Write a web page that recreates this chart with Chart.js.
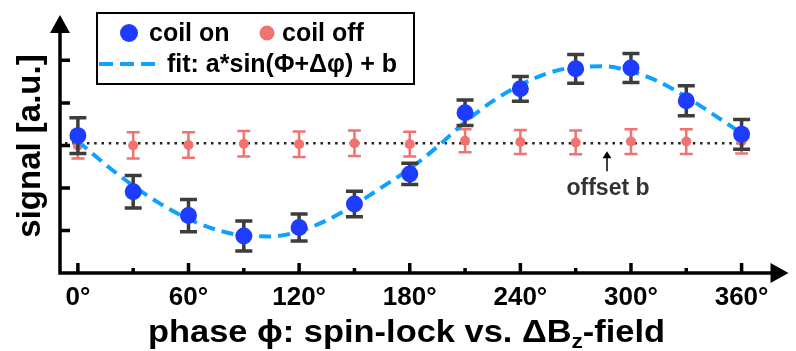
<!DOCTYPE html>
<html>
<head>
<meta charset="utf-8">
<script src="https://cdn.jsdelivr.net/npm/chart.js@4.4.1/dist/chart.umd.min.js"></script>
<style>
  html, body { margin: 0; padding: 0; background: #fff; }
</style>
</head>
<body>
<canvas id="chart" width="796" height="351"></canvas>
<script>
const phases = [0, 30, 60, 90, 120, 150, 180, 210, 240, 270, 300, 330, 360];
const coilOn = [3.23, 1.91, 1.35, 0.87, 1.07, 1.62, 2.33, 3.77, 4.33, 4.80, 4.82, 4.05, 3.26];
const coilOnErr = [0.42, 0.38, 0.38, 0.35, 0.32, 0.30, 0.25, 0.30, 0.29, 0.34, 0.34, 0.35, 0.35];
const coilOff = [2.99, 3.00, 3.01, 3.04, 3.03, 3.05, 3.03, 3.11, 3.08, 3.07, 3.09, 3.09, 3.10];
const coilOffErr = [0.30, 0.31, 0.30, 0.30, 0.30, 0.30, 0.29, 0.27, 0.28, 0.28, 0.29, 0.29, 0.29];

// dashed fit curve, every 15 degrees
const fitPhases = [0, 15, 30, 45, 60, 75, 90, 105, 120, 135, 150, 165, 180,
                   195, 210, 225, 240, 255, 270, 285, 300, 315, 330, 345, 360];
const fitValues = [3.10, 2.55, 2.05, 1.62, 1.27, 1.02, 0.88, 0.86, 0.98, 1.24, 1.60, 2.02, 2.45,
                   2.97, 3.55, 4.04, 4.42, 4.70, 4.84, 4.86, 4.74, 4.50, 4.14, 3.72, 3.28];

const offsetB = 3.05;
const offsetRange = [-7, 360];
const offsetArrowAt = 287;

const xTickValues = [0, 60, 120, 180, 240, 300, 360];
const xTickLabels = ['0°', '60°', '120°', '180°', '240°', '300°', '360°'];
const xMinorTicks = [30, 90, 150, 210, 270, 330];
const yTickValues = [1, 2, 3, 4, 5];

const FONT = "'Liberation Sans', Arial, Helvetica, sans-serif";
const BLUE = '#1e3cff';
const RED = '#f27272';
const FIT = '#0ea2ff';

const errorBars = {
  id: 'errorBars',
  beforeDatasetDraw(chart, args) {
    const ds = chart.data.datasets[args.index];
    if (!ds.errors) return;
    const c = chart.ctx, y = chart.scales.y;
    c.save();
    c.strokeStyle = ds.errorColor;
    c.lineWidth = ds.errorWidth;
    args.meta.data.forEach((pt, i) => {
      const v = ds.data[i].y, e = ds.errors[i];
      const top = y.getPixelForValue(v + e), bot = y.getPixelForValue(v - e);
      const w = ds.capWidth / 2;
      c.beginPath();
      c.moveTo(pt.x, top); c.lineTo(pt.x, bot);
      c.moveTo(pt.x - w, top); c.lineTo(pt.x + w, top);
      c.moveTo(pt.x - w, bot); c.lineTo(pt.x + w, bot);
      c.stroke();
    });
    c.restore();
  }
};

const axes = {
  id: 'axes',
  beforeDatasetsDraw(chart) {
    const c = chart.ctx, x = chart.scales.x, y = chart.scales.y;
    const x0 = x.left, y0 = y.bottom;
    c.save();
    c.strokeStyle = '#000';
    c.fillStyle = '#000';
    c.lineWidth = 3.5;
    c.beginPath();
    c.moveTo(x0, y0 + 1.75); c.lineTo(x0, y.top + 16);
    c.moveTo(x0 - 1.75, y0); c.lineTo(x.right - 16, y0);
    yTickValues.forEach(v => {
      const py = y.getPixelForValue(v);
      c.moveTo(x0, py); c.lineTo(x0 + 10, py);
    });
    xTickValues.forEach(v => {
      const px = x.getPixelForValue(v);
      c.moveTo(px, y0); c.lineTo(px, y0 - 10);
    });
    xMinorTicks.forEach(v => {
      const px = x.getPixelForValue(v);
      c.moveTo(px, y0); c.lineTo(px, y0 - 5);
    });
    c.stroke();
    c.beginPath();
    c.moveTo(x0, y.top + 1); c.lineTo(x0 - 10, y.top + 19); c.lineTo(x0 + 10, y.top + 19); c.closePath();
    c.moveTo(x.right + 1, y0); c.lineTo(x.right - 17, y0 - 10); c.lineTo(x.right - 17, y0 + 10); c.closePath();
    c.fill();
    c.restore();
  },
  afterDraw(chart) {
    const c = chart.ctx, x = chart.scales.x, y = chart.scales.y;
    const ds = chart.data.datasets;
    c.save();

    // legend box
    c.strokeStyle = '#000';
    c.lineWidth = 2;
    c.strokeRect(97, 13, 317, 71);
    c.font = 'bold 25px ' + FONT;
    c.textBaseline = 'middle';
    c.fillStyle = BLUE;
    c.beginPath(); c.arc(129, 33, 9, 0, Math.PI * 2); c.fill();
    c.fillStyle = RED;
    c.beginPath(); c.arc(267, 33, 7.5, 0, Math.PI * 2); c.fill();
    c.fillStyle = '#000';
    c.fillText(ds[0].label, 149, 34);
    c.fillText(ds[2].label, 282, 34);
    c.fillText(ds[1].label, 167, 65);
    c.strokeStyle = FIT;
    c.lineWidth = 4;
    c.setLineDash([14, 7]);
    c.beginPath(); c.moveTo(99, 64); c.lineTo(157, 64); c.stroke();
    c.setLineDash([]);

    // offset b annotation
    const ax = x.getPixelForValue(offsetArrowAt);
    const ay = y.getPixelForValue(offsetB);
    c.strokeStyle = '#000';
    c.fillStyle = '#000';
    c.lineWidth = 1.5;
    c.beginPath(); c.moveTo(ax, ay + 28); c.lineTo(ax, ay + 12); c.stroke();
    c.beginPath(); c.moveTo(ax, ay + 8); c.lineTo(ax - 4.5, ay + 15); c.lineTo(ax + 4.5, ay + 15); c.closePath(); c.fill();
    c.fillStyle = '#333';
    c.font = 'bold 23px ' + FONT;
    c.textAlign = 'center';
    c.textBaseline = 'alphabetic';
    c.fillText('offset b', ax + 1, 195);

    // y title
    c.fillStyle = '#000';
    c.save();
    c.translate(31, 146);
    c.rotate(-Math.PI / 2);
    c.font = 'bold 33px ' + FONT;
    c.textAlign = 'center';
    c.textBaseline = 'middle';
    c.fillText('signal [a.u.]', 0, 0);
    c.restore();

    // x title with subscript, stretched to the reference width
    const main = 'bold 32px ' + FONT, sub = 'bold 21px ' + FONT;
    const p1 = 'phase ϕ: spin-lock vs. ΔB', p2 = 'z', p3 = '-field';
    c.textAlign = 'left';
    c.textBaseline = 'alphabetic';
    c.font = main; const w1 = c.measureText(p1).width, w3 = c.measureText(p3).width;
    c.font = sub; const w2 = c.measureText(p2).width;
    const total = w1 + w2 + w3;
    const sx = 517 / total;
    c.save();
    c.translate(148, 342);
    c.scale(sx, 1);
    let tx = 0;
    c.font = main; c.fillText(p1, tx, 0); tx += w1;
    c.font = sub; c.fillText(p2, tx, 6); tx += w2;
    c.font = main; c.fillText(p3, tx, 0);
    c.restore();
    c.restore();
  }
};

new Chart(document.getElementById('chart').getContext('2d'), {
  type: 'scatter',
  data: {
    datasets: [
      {
        label: 'coil on',
        data: phases.map((p, i) => ({ x: p, y: coilOn[i] })),
        errors: coilOnErr, errorColor: '#3d3d3d', errorWidth: 3.5, capWidth: 17,
        backgroundColor: BLUE, borderWidth: 0, pointRadius: 8.5, order: 0
      },
      {
        type: 'line',
        label: 'fit: a*sin(Φ+Δφ) + b',
        data: fitPhases.map((p, i) => ({ x: p, y: fitValues[i] })),
        borderColor: FIT, borderWidth: 4, borderDash: [12, 7], pointRadius: 0,
        cubicInterpolationMode: 'monotone', fill: false, order: 1
      },
      {
        label: 'coil off',
        data: phases.map((p, i) => ({ x: p, y: coilOff[i] })),
        errors: coilOffErr, errorColor: RED, errorWidth: 2.5, capWidth: 13,
        backgroundColor: RED, borderWidth: 0, pointRadius: 5, order: 2
      },
      {
        type: 'line',
        label: 'offset b',
        data: offsetRange.map(p => ({ x: p, y: offsetB })),
        borderColor: '#222', borderWidth: 2.5, borderDash: [2.5, 4.8], pointRadius: 0,
        fill: false, order: 3
      }
    ]
  },
  options: {
    responsive: false,
    animation: false,
    layout: { padding: { top: 14, right: 6, left: 0, bottom: 0 } },
    plugins: { legend: { display: false }, tooltip: { enabled: false } },
    scales: {
      x: {
        type: 'linear', min: -9.7, max: 384.9,
        grid: { display: false, drawTicks: false },
        border: { display: false },
        afterBuildTicks: s => { s.ticks = xTickValues.map(v => ({ value: v })); },
        ticks: {
          callback: v => xTickLabels[xTickValues.indexOf(v)],
          color: '#000', padding: 9, maxRotation: 0, autoSkip: false,
          font: { family: FONT, size: 26, weight: 'bold' }
        },
        afterFit: s => { s.height = 78; }
      },
      y: {
        min: 0, max: 6.09,
        grid: { display: false, drawTicks: false },
        border: { display: false },
        ticks: { display: false },
        afterFit: s => { s.width = 60; }
      }
    }
  },
  plugins: [errorBars, axes]
});
</script>
</body>
</html>
